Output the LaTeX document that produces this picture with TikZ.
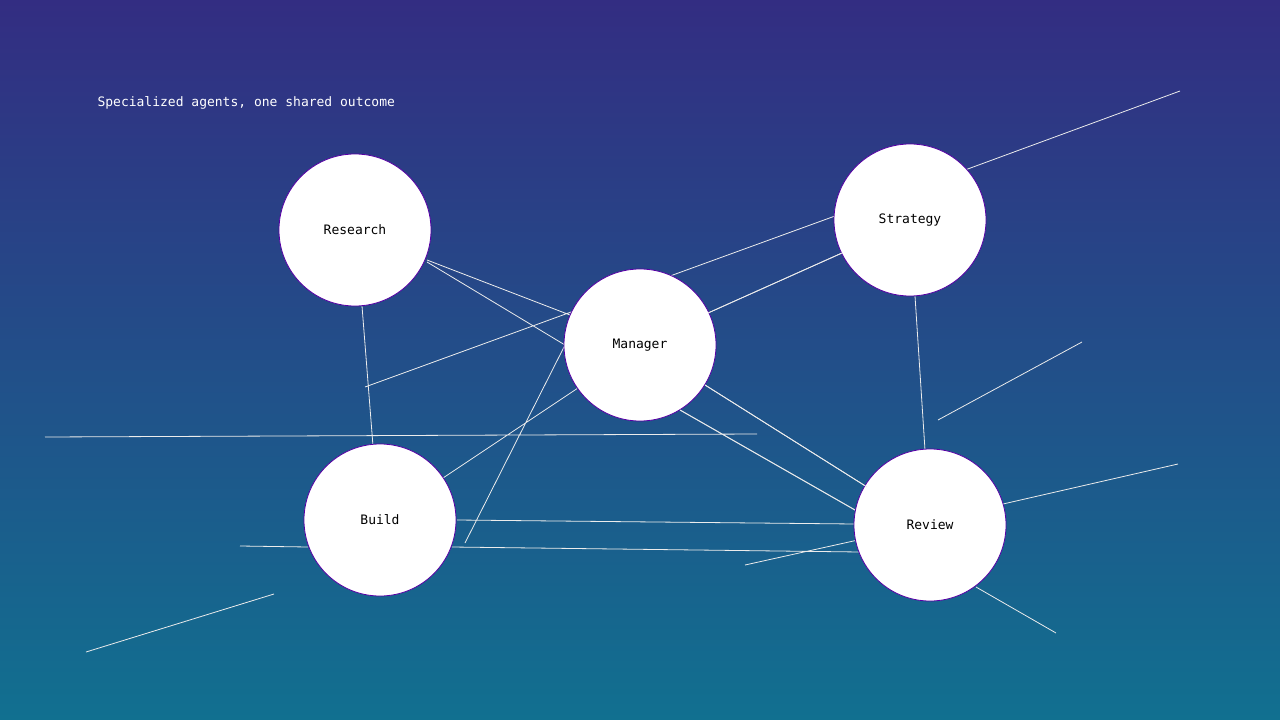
\documentclass[tikz,border=0pt]{standalone}
\usepackage{fontspec}
\setmonofont{DejaVu Sans Mono}
\begin{document}
\begin{tikzpicture}[x=1pt,y=-1pt,
  agent/.style={circle,fill=white,draw=violet!70!blue,line width=0.8pt,minimum size=152pt,inner sep=0pt,font=\ttfamily\fontsize{13}{15}\selectfont,text=black},
  link/.style={draw=white!85!gray,line width=0.8pt}]
\shade[top color={rgb,255:red,51;green,45;blue,130},bottom color={rgb,255:red,17;green,112;blue,144}] (0,0) rectangle (1280,720);
\useasboundingbox (0,0) rectangle (1280,720);
\node[anchor=west,text=white,font=\ttfamily\fontsize{13}{15}\selectfont] (title) at (94,103) {Specialized agents, one shared outcome};
\foreach \a/\b in {1180/91/965/170, 427/260/570/315, 427/262/565/345, 365/387/835/216, 708/313/842/253, 362/306/373/446, 915/296/925/450, 938/420/1082/342, 45/437/757/434, 443/478/578/388, 465/543/565/345, 705/385/867/487, 680/410/855/510, 457/520/855/524, 240/546/308/547, 452/547/860/552, 745/565/858/540, 1003/504/1178/464, 976/587/1056/633, 86/652/274/594}{}
\draw[link] (1180,91)--(965,170) (427,260)--(570,315) (427,262)--(565,345) (365,387)--(835,216) (708,313)--(842,253) (362,306)--(373,446) (915,296)--(925,450) (938,420)--(1082,342) (45,437)--(757,434) (443,478)--(578,388) (465,543)--(565,345) (705,385)--(867,487) (680,410)--(855,510) (457,520)--(855,524) (240,546)--(308,547) (452,547)--(860,552) (745,565)--(858,540) (1003,504)--(1178,464) (976,587)--(1056,633) (86,652)--(274,594);
\node[agent] (research) at (355,230) {Research};
\node[agent] (strategy) at (910,220) {Strategy};
\node[agent] (manager) at (640,345) {Manager};
\node[agent] (build) at (380,520) {Build};
\node[agent] (review) at (930,525) {Review};
\draw[link] (708,313)--(842,253) (705,385)--(867,487) (680,410)--(855,510);
\end{tikzpicture}
\end{document}
